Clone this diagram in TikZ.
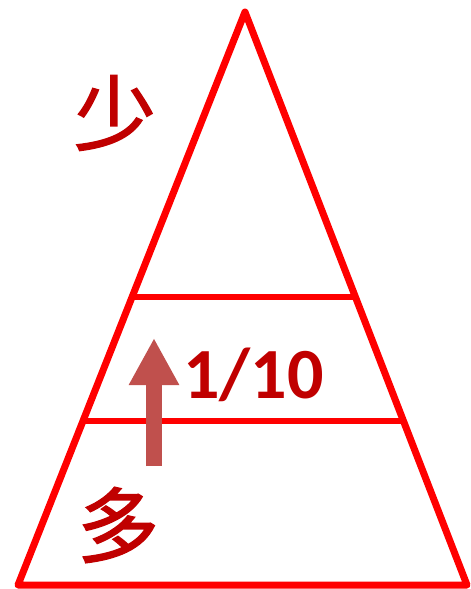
\documentclass[tikz,border=0pt]{standalone}
\usepackage{fontspec}
\setmainfont{Carlito}
\newfontfamily\cjk[FakeBold=1.6]{Noto Sans CJK SC}
\usepackage{xcolor}
\usetikzlibrary{arrows.meta,calc}
\definecolor{pyred}{HTML}{FF0000}
\definecolor{txtred}{HTML}{C00000}
\definecolor{arrred}{HTML}{C0504D}

\begin{document}
\begin{tikzpicture}[x=1pt, y=-1pt,
  tri/.style={draw=pyred, line width=7pt, line join=round},
  lvl/.style={draw=pyred, line width=6pt},
  kanji/.style={font=\cjk\fontsize{82}{82}\selectfont, text=txtred, inner sep=0pt},
  ratio/.style={font=\bfseries\fontsize{72}{72}\selectfont, text=txtred, inner sep=0pt},
  uparrow/.style={draw=arrred, line width=16pt,
                  -{Triangle[length=47pt, width=47pt]}}]
\useasboundingbox (0,0) rectangle (471,589);

% ---------------- pyramid ----------------
\coordinate (apex) at (245,12);
\coordinate (bl)   at (18,585);
\coordinate (br)   at (467,585);
\draw[tri] (apex) -- (bl) -- (br) -- cycle;

% level lines
\coordinate (l1a) at ($(bl)!0.5026!(apex)$);
\coordinate (l1b) at ($(br)!0.5026!(apex)$);
\coordinate (l2a) at ($(bl)!0.2862!(apex)$);
\coordinate (l2b) at ($(br)!0.2862!(apex)$);
\draw[lvl] (l1a) -- (l1b);
\draw[lvl] (l2a) -- (l2b);

% ---------------- labels ----------------
\node[kanji] (few)  at (115,113) {少};
\node[kanji] (many) at (118,525) {多};
\node[ratio, anchor=base west] (tenth) at (183,398) {1/10};

% arrow up through the middle level
\coordinate (abot) at (154,466);
\coordinate (atop) at (154,338);
\draw[uparrow] (abot) -- (atop);
\end{tikzpicture}
\end{document}
